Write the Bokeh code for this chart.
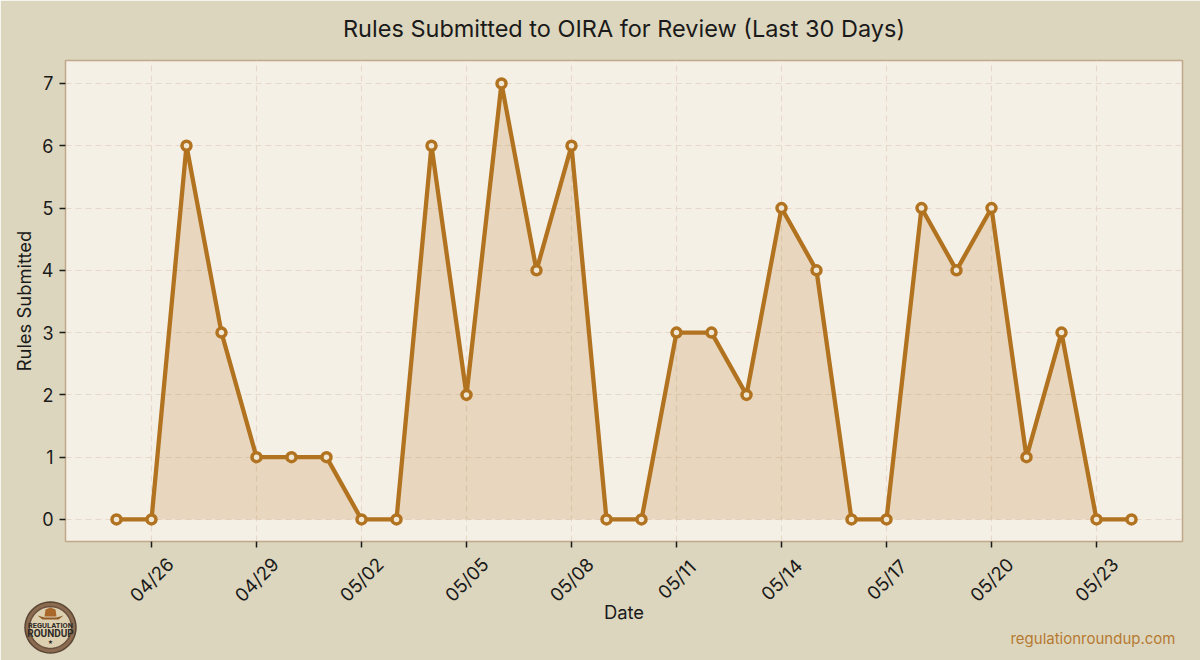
from bokeh.plotting import figure
from bokeh.embed import file_html
from bokeh.resources import INLINE
from bokeh.core.properties import value
from bokeh.models import Range1d, FixedTicker
import math

dates = ["04/25","04/26","04/27","04/28","04/29","04/30","05/01","05/02","05/03","05/04",
         "05/05","05/06","05/07","05/08","05/09","05/10","05/11","05/12","05/13","05/14",
         "05/15","05/16","05/17","05/18","05/19","05/20","05/21","05/22","05/23","05/24"]
rules = [0,0,6,3,1,1,1,0,0,6,2,7,4,6,0,0,3,3,2,5,4,0,0,5,4,5,1,3,0,0]
tick_labels = ["04/26","04/29","05/02","05/05","05/08","05/11","05/14","05/17","05/20","05/23"]
y_ticks = [0,1,2,3,4,5,6,7]
title = "Rules Submitted to OIRA for Review (Last 30 Days)"

BG = "#DDD6BE"; PANEL = "#F5F0E6"; LINE = "#B27320"; INK = "#1A1A1A"; FRAME = "#BFA98A"; GRID = "#E6D9CC"
FONT = "Inter"
X0, X1, Y0, Y1 = -1.457, 30.457, -0.354, 7.369

idx = list(range(len(dates)))
tick_idx = [dates.index(t) for t in tick_labels]

p = figure(width=1200, height=660, output_backend="svg", toolbar_location=None,
           x_range=Range1d(X0, X1), y_range=Range1d(Y0, Y1),
           background_fill_color=PANEL, border_fill_color=BG,
           min_border_left=65, min_border_right=18, min_border_top=60, min_border_bottom=119)

p.outline_line_color = FRAME
p.outline_line_width = 1.5

p.varea(x=idx, y1=[0]*len(idx), y2=rules, fill_color=LINE, fill_alpha=0.2)
p.line(idx, rules, line_color=LINE, line_width=4.3)
p.scatter(idx, rules, size=9, marker="circle", fill_color="#EFE6D4", line_color=LINE, line_width=3.5)

for ax, label in ((p.xaxis[0], "Date"), (p.yaxis[0], "Rules Submitted")):
    ax.axis_label = label
    ax.axis_label_text_font = FONT
    ax.axis_label_text_font_size = "18.4px"
    ax.axis_label_text_font_style = "normal"
    ax.axis_label_text_color = INK
    ax.major_label_text_font = FONT
    ax.major_label_text_font_size = "18px"
    ax.major_label_text_color = INK
    ax.axis_line_color = None
    ax.major_tick_line_color = INK
    ax.major_tick_line_width = 1.5
    ax.major_tick_in = 0
    ax.major_tick_out = 6
    ax.minor_tick_line_color = None

p.xaxis.ticker = FixedTicker(ticks=tick_idx)
p.xaxis.major_label_overrides = {i: "" for i in tick_idx}
p.xaxis.axis_label_standoff = 53
p.yaxis.ticker = FixedTicker(ticks=y_ticks)
p.yaxis.major_label_orientation = "horizontal"
p.yaxis.major_label_standoff = 6
p.yaxis.axis_label_standoff = 4

# rotated date labels, centred on their ticks
p.text(x=tick_idx, y=[Y0]*len(tick_idx), text=tick_labels, angle=math.pi/4,
       y_offset=38, text_align="center", text_baseline="middle", text_color=INK,
       text_font=value(FONT), text_font_size="18.5px", level="overlay")

for g in (p.xgrid[0], p.ygrid[0]):
    g.grid_line_color = GRID
    g.grid_line_dash = "6 4"
    g.grid_line_width = 1.2

# page pixel -> data helpers for the texts and badge outside the frame
def px(x): return X0 + (x - 65) * (X1 - X0) / 1117
def py(y): return Y0 + (541 - y) * (Y1 - Y0) / 481

def note(x, y, s, color, size, font=FONT, align="center", style="normal"):
    p.text(x=[px(x)], y=[py(y)], text=[s], text_align=align, text_baseline="middle", text_color=color,
           text_font=value(font), text_font_size=size, text_font_style=style, level="overlay")

def shape(points, fill, line=None, lw=1):
    p.patch(x=[px(a) for a, _ in points], y=[py(b) for _, b in points], fill_color=fill,
            line_color=line, line_width=lw, level="overlay")

def ring(cx, cy, r, fill, line=None, lw=1):
    steps = range(48)
    shape([(cx + r*math.cos(i*math.pi/24), cy + r*math.sin(i*math.pi/24)) for i in steps], fill, line, lw)

note(623.5, 28, title, INK, "23.5px")
note(1175, 638, "regulationroundup.com", "#B57A32", "15px", align="right")

# round badge, bottom left
ring(50, 627, 25.5, "#8B6C50", "#5A4534", 1.5)
ring(50, 627, 21, "#DDD0B0", "#6B5240", 1.5)
shape([(44, 616), (45, 609), (50, 607), (55, 609), (56, 616)], "#A9672A")
shape([(37, 615), (44, 617), (56, 617), (63, 615), (58, 619), (42, 619)], "#8F5A28")
note(50, 624.5, "REGULATION", "#2E2A26", "7.5px", font="Roboto", style="bold")
note(50, 632.5, "ROUNDUP", "#2E2A26", "10px", font="Roboto", style="bold")
note(50, 641, "\u2605", "#2E2A26", "6px", font="DejaVu Sans")

open("out.html", "w").write(file_html(p, INLINE))
